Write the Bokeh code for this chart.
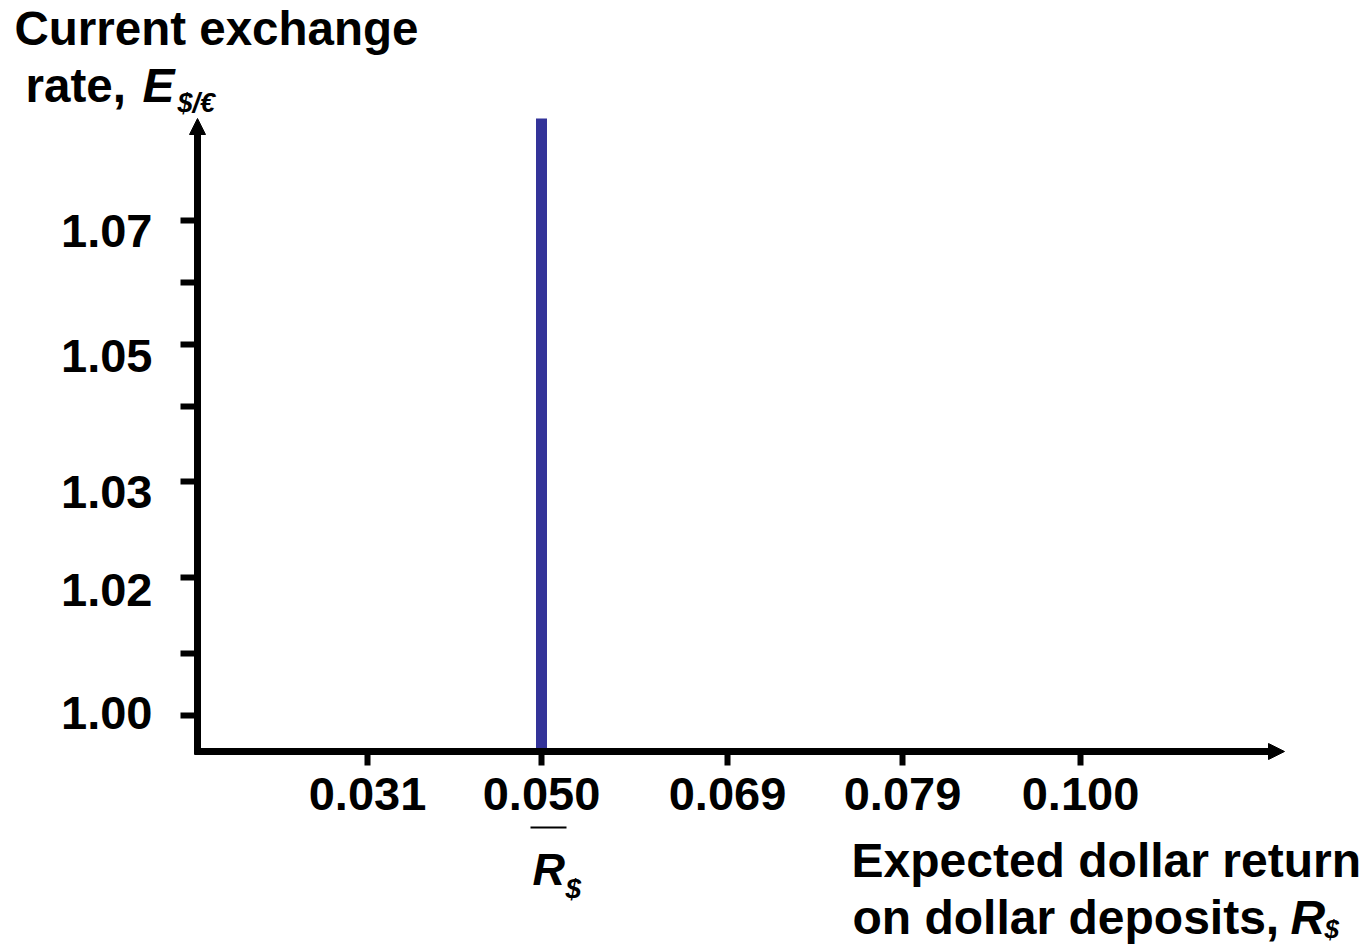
import numpy as np
from bokeh.plotting import figure
from bokeh.models import Range1d, FixedTicker, Label, Arrow, NormalHead, LinearAxis
from bokeh.embed import file_html
from bokeh.resources import INLINE

# ---------------- data ----------------
x_tick_values = [0.031, 0.050, 0.069, 0.079, 0.100]
x_tick_labels = ["0.031", "0.050", "0.069", "0.079", "0.100"]
y_values_all = [1.00, 1.01, 1.02, 1.03, 1.04, 1.05, 1.06, 1.07]
y_labeled = [1.00, 1.02, 1.03, 1.05, 1.07]
y_tick_labels = ["1.00", "1.02", "1.03", "1.05", "1.07"]
r_bar = [0.050]          # expected dollar return (vertical schedule)

# ---------------- layout (schematic axis positions, px from the origin) ----------------
X_POS = [170, 344, 530, 705, 883]
Y_POS = [36, 98, 174, 270, 345, 407, 469, 531]
Y_LABEL_POS = [39, 162, 260, 396, 521]   # label centres (slightly off the ticks, as drawn)

W, H = 1363, 944
OX, OY = 197, 751          # origin on the canvas
XMAX, YMAX = 1087, 633     # axis lengths

FONT = "Liberation Sans"
BLUE = "#333399"
BASELINE_FIX = 0.36

def xpos(v):
    return float(np.interp(v, x_tick_values, X_POS))

p = figure(width=W, height=H, output_backend="svg", toolbar_location=None,
           x_range=Range1d(-OX, W - OX), y_range=Range1d(OY - H, OY),
           min_border=0, min_border_left=0, min_border_right=0,
           min_border_top=0, min_border_bottom=0)
p.grid.visible = False
p.outline_line_color = None
p.background_fill_color = "white"
p.border_fill_color = "white"

xax = p.xaxis[0]
yax = p.yaxis[0]
xax.fixed_location = 0
yax.fixed_location = 0

# x axis
xax.ticker = FixedTicker(ticks=X_POS, minor_ticks=[])
xax.major_label_overrides = {X_POS[i]: x_tick_labels[i] for i in range(len(X_POS))}

# y axis: ticks only
y_major_pos = [Y_POS[y_values_all.index(v)] for v in y_labeled]
y_minor_pos = [Y_POS[i] for i, v in enumerate(y_values_all) if v not in y_labeled]
yax.ticker = FixedTicker(ticks=y_major_pos, minor_ticks=y_minor_pos)
yax.major_label_text_font_size = "0px"
yax.major_label_text_alpha = 0

for ax in (xax, yax):
    ax.axis_line_color = None
    ax.major_tick_line_color = "black"
    ax.major_tick_line_width = 6
    ax.major_tick_in = 0
    ax.minor_tick_line_color = "black"
    ax.minor_tick_line_width = 6
    ax.minor_tick_in = 0
xax.major_label_text_font = FONT
xax.major_label_text_font_style = "bold"
xax.major_label_text_font_size = "47px"
xax.major_label_text_color = "black"
xax.major_tick_out = 14
xax.major_label_standoff = 12
yax.major_tick_out = 17
yax.minor_tick_out = 17

# y axis: labels only
ylab = LinearAxis(fixed_location=0,
                  ticker=FixedTicker(ticks=Y_LABEL_POS, minor_ticks=[]),
                  major_label_overrides={Y_LABEL_POS[i]: y_tick_labels[i] for i in range(len(Y_LABEL_POS))})
ylab.axis_line_color = None
ylab.major_tick_line_color = None
ylab.minor_tick_line_color = None
ylab.major_tick_in = 0
ylab.major_tick_out = 17
ylab.minor_tick_out = 0
ylab.major_label_standoff = 28
ylab.major_label_text_font = FONT
ylab.major_label_text_font_style = "bold"
ylab.major_label_text_font_size = "47px"
ylab.major_label_text_color = "black"
p.add_layout(ylab, "left")

# vertical R$ schedule
xr = xpos(r_bar[0])
p.segment(x0=[xr], y0=[0], x1=[xr], y1=[YMAX], line_color=BLUE, line_width=11)

# axes with arrow heads
p.add_layout(Arrow(end=NormalHead(size=16, fill_color="black", line_color="black", line_width=1),
                   x_start=0, y_start=-3, x_end=0, y_end=YMAX,
                   line_color="black", line_width=7))
p.add_layout(Arrow(end=NormalHead(size=16, fill_color="black", line_color="black", line_width=1),
                   x_start=-3, y_start=0, x_end=XMAX, y_end=0,
                   line_color="black", line_width=7))

def txt(x, y, s, size, style="bold"):
    # y is the intended baseline (data units)
    p.add_layout(Label(x=x, y=y + BASELINE_FIX * size, text=s, text_font=FONT,
                       text_font_size=f"{size}px", text_font_style=style,
                       text_align="left", text_baseline="alphabetic", text_color="black"))

# y-axis title
txt(-183, 706, "Current exchange", 47.5)
txt(-172, 649, "rate,", 47.5)
txt(-55, 649, "E", 48, "bold italic")
txt(-20, 639, "$/€", 27, "bold italic")

# x-axis title
txt(654, -126, "Expected dollar return", 48)
txt(655, -183, "on dollar deposits,", 48)
txt(1093, -183, "R", 48, "bold italic")
txt(1127, -187, "$", 26, "bold italic")

# R-bar label under the schedule
txt(xr - 9, -134, "R", 45, "bold italic")
txt(xr + 24, -147, "$", 28, "bold italic")
p.add_layout(Arrow(end=None, start=None, x_start=xr - 11, y_start=-76, x_end=xr + 25, y_end=-76,
                   line_color="black", line_width=2))

open("out.html", "w").write(file_html(p, INLINE))
